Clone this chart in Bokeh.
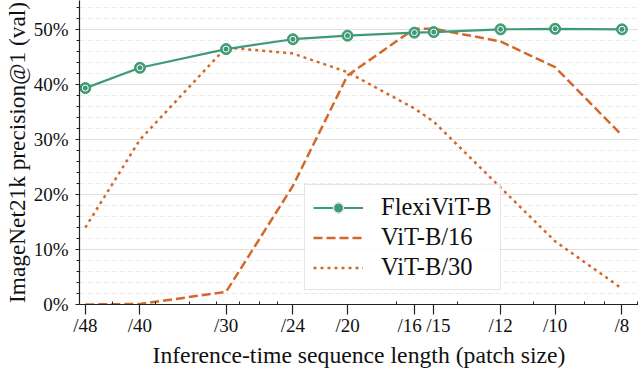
from bokeh.plotting import figure
from bokeh.models import (Range1d, FixedTicker, NumeralTickFormatter, Legend,
                          LegendItem, CustomJSTickFormatter)
from bokeh.embed import file_html
from bokeh.resources import INLINE

# ---- data ----
patch_labels = ["/48", "/40", "/30", "/24", "/20", "/16", "/15", "/12", "/10", "/8"]
seq_len = [25, 36, 64, 100, 144, 225, 256, 400, 576, 900]
flexivit_b = [0.394, 0.431, 0.465, 0.483, 0.4895, 0.495, 0.496, 0.501, 0.502, 0.501]
vit_b16 = [0.0, 0.001, 0.023, 0.216, 0.417, 0.502, 0.502, 0.479, 0.432, 0.308]
vit_b30 = [0.140, 0.300, 0.468, 0.457, 0.423, 0.357, 0.333, 0.213, 0.115, 0.029]
x_minor = [30, 40, 50, 60, 70, 80, 90, 200, 300, 500, 700, 800, 1000]
y_major = [0.0, 0.1, 0.2, 0.3, 0.4, 0.5]
y_minor = [0.02, 0.04, 0.06, 0.08, 0.12, 0.14, 0.16, 0.18, 0.22, 0.24, 0.26, 0.28,
           0.32, 0.34, 0.36, 0.38, 0.42, 0.44, 0.46, 0.48, 0.52, 0.54]
x_title = "Inference-time sequence length (patch size)"
y_title = "ImageNet21k precision@1 (val)"

# ---- style ----
GREEN = "#3f9b76"
ORANGE = "#d2692a"
INK = "#111111"
FONT = "Liberation Serif"
label_pad = [0, 0, 0, 0, 0, -2, 2, 0, 0, 0]   # nbsp padding to separate /16 and /15

p = figure(width=638, height=370, x_axis_type="log",
           x_range=Range1d(24.05, 1005), y_range=Range1d(0, 0.5535),
           output_backend="svg", toolbar_location=None,
           min_border_left=76, min_border_right=0, min_border_top=0, min_border_bottom=63)
p.outline_line_color = None

p.xaxis.ticker = FixedTicker(ticks=seq_len, minor_ticks=x_minor)
p.xaxis.formatter = CustomJSTickFormatter(args=dict(vals=seq_len, labs=patch_labels, pad=label_pad), code="""
    for (let i = 0; i < vals.length; i++) {
        if (Math.abs(vals[i] - tick) < 1e-6) {
            const n = Math.abs(pad[i]);
            const s = '\\u00a0'.repeat(n);
            return pad[i] < 0 ? labs[i] + s : s + labs[i];
        }
    }
    return '';
""")
p.yaxis.ticker = FixedTicker(ticks=y_major, minor_ticks=y_minor)
p.yaxis.formatter = NumeralTickFormatter(format="0%")

for ax in (p.xaxis[0], p.yaxis[0]):
    ax.axis_line_color = "#222222"
    ax.axis_line_width = 1.2
    ax.major_tick_line_color = "#222222"
    ax.minor_tick_line_color = "#222222"
    ax.major_tick_line_width = 1.2
    ax.minor_tick_line_width = 1.0
    ax.major_label_text_font = FONT
    ax.major_label_text_font_size = "19px"
    ax.major_label_text_color = INK
    ax.axis_label_text_font = FONT
    ax.axis_label_text_font_style = "normal"
    ax.axis_label_text_color = INK

p.xaxis.axis_label = x_title
p.xaxis.axis_label_text_font_size = "23.7px"
p.xaxis.major_tick_out = 10
p.xaxis.major_tick_in = 0
p.xaxis.minor_tick_in = 3
p.xaxis.minor_tick_out = 0
p.xaxis.major_label_standoff = 0
p.xaxis.axis_label_standoff = 3

p.yaxis.axis_label = y_title
p.yaxis.axis_label_text_font_size = "23.3px"
p.yaxis.major_tick_out = 4
p.yaxis.major_tick_in = 0
p.yaxis.minor_tick_out = 3
p.yaxis.minor_tick_in = 0
p.yaxis.major_label_standoff = 7
p.yaxis.axis_label_standoff = 1

# grid
p.xgrid.grid_line_color = None
p.ygrid.grid_line_color = "#e0e0e0"
p.ygrid.grid_line_width = 1.2
p.ygrid.minor_grid_line_color = "#ebebeb"
p.ygrid.minor_grid_line_dash = "5 3"
p.ygrid.minor_grid_line_width = 1.2

# series
r16 = p.line(seq_len, vit_b16, line_color=ORANGE, line_width=2.5, line_dash="9 4")
r30 = p.line(seq_len, vit_b30, line_color=ORANGE, line_width=2.5, line_dash="3 4")
rf = p.line(seq_len, flexivit_b, line_color=GREEN, line_width=2.2)
rfm = p.scatter(seq_len, flexivit_b, size=11, fill_color=GREEN, line_color=GREEN, line_width=1)
rfi = p.scatter(seq_len, flexivit_b, size=6, fill_color=None, line_color="white", line_width=1)

legend = Legend(items=[
    LegendItem(label="FlexiViT-B", renderers=[rf, rfm, rfi]),
    LegendItem(label="ViT-B/16", renderers=[r16]),
    LegendItem(label="ViT-B/30", renderers=[r30]),
], location=(225, 14))
legend.label_text_font = FONT
legend.label_text_font_size = "24.5px"
legend.label_text_color = INK
legend.glyph_width = 50
legend.glyph_height = 25
legend.label_height = 25
legend.label_standoff = 18
legend.spacing = 2
legend.padding = 8
legend.margin = 0
legend.border_line_color = "#cccccc"
legend.border_line_width = 1.2
legend.background_fill_alpha = 0.8
p.add_layout(legend)

open("out.html", "w").write(file_html(p, INLINE))
